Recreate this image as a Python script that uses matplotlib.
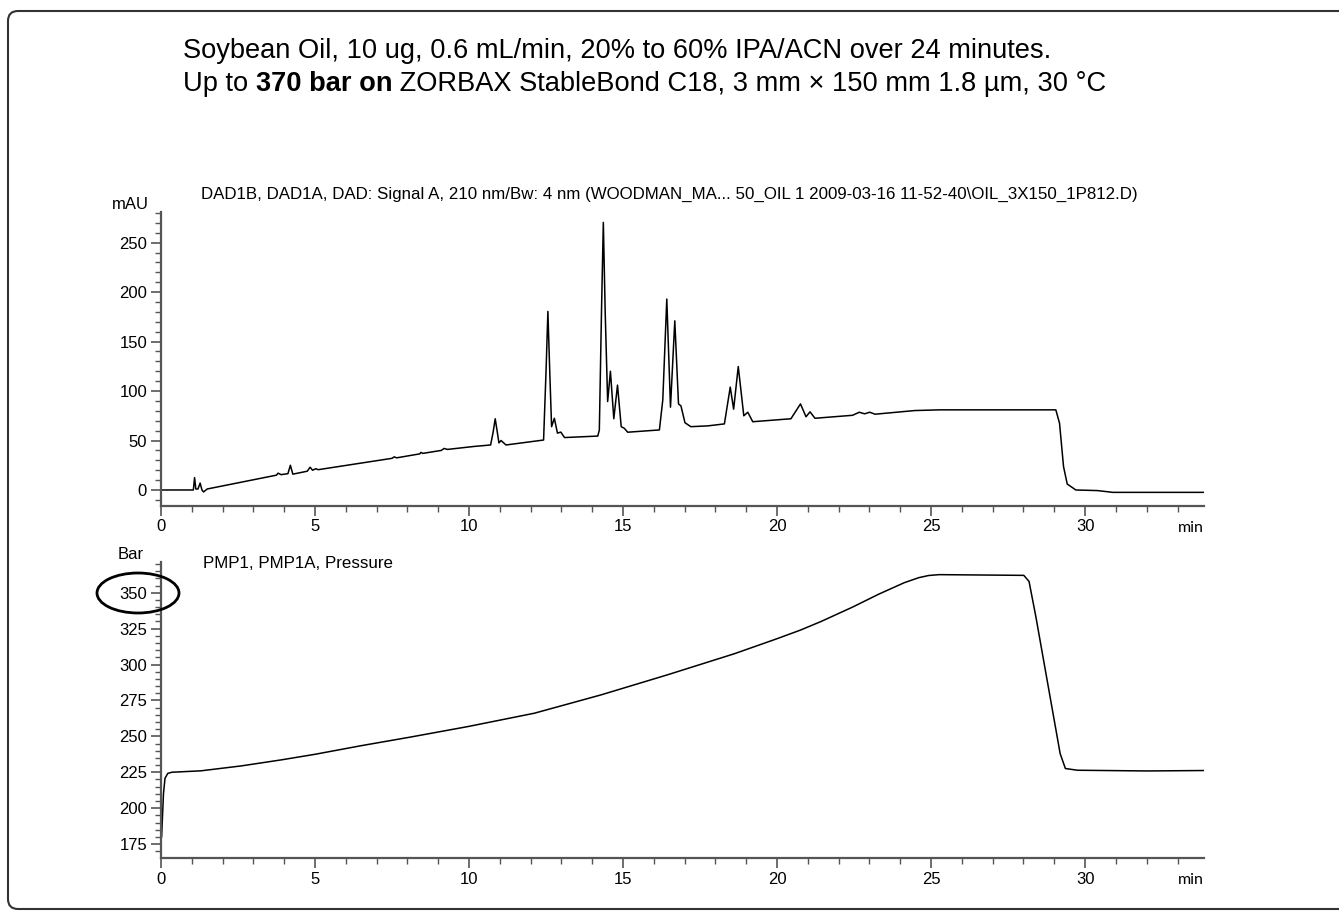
"""
Soybean oil chromatogram and pump pressure trace
================================================
Two stacked panels: DAD signal at 210 nm (mAU) and pump pressure (bar)
against retention time (min). Saved as out.png.
"""

import matplotlib.pyplot as plt
from matplotlib.patches import Ellipse, FancyBboxPatch
from matplotlib.ticker import MultipleLocator
from matplotlib.transforms import IdentityTransform

# ---- DAD signal A, 210 nm (time in min, mAU) ----
dad_time = [
    0.0, 1.05, 1.09, 1.13, 1.2, 1.27, 1.33, 1.38, 1.5,
    3.75, 3.8, 3.9, 4.12, 4.2, 4.28, 4.75, 4.84, 4.92, 5.03, 5.1,
    7.5, 7.57, 7.65, 8.4, 8.44, 8.5, 9.1, 9.19, 9.3, 10.16,
    10.7, 10.78, 10.85, 10.92, 10.97, 11.04, 11.2,
    12.42, 12.5, 12.56, 12.62, 12.68, 12.77, 12.87, 12.98, 13.1,
    14.18, 14.23, 14.3, 14.36, 14.42, 14.5, 14.59, 14.7, 14.82, 14.94, 15.04, 15.15,
    16.18, 16.29, 16.42, 16.54, 16.68, 16.8, 16.88, 17.01, 17.2, 17.75,
    18.29, 18.48, 18.59, 18.74, 18.92, 19.05, 19.21,
    20.45, 20.76, 20.94, 21.07, 21.23,
    22.45, 22.67, 22.84, 23.01, 23.18, 24.47, 25.26,
    29.05, 29.17, 29.3, 29.42, 29.7, 30.4, 30.9, 33.86,
]
dad_signal = [
    0.0, 0.0, 12.5, 1.0, 1.0, 7.0, 0.0, -2.0, 1.0,
    15.0, 17.0, 15.5, 16.5, 25.0, 16.0, 19.0, 23.0, 20.0, 21.5, 20.5,
    32.0, 33.5, 32.5, 36.5, 38.0, 37.0, 40.0, 42.0, 41.0, 44.0,
    45.5, 58.0, 72.0, 58.0, 47.6, 50.0, 45.5,
    50.5, 120.0, 180.5, 120.0, 64.0, 72.5, 57.5, 58.5, 53.0,
    54.5, 60.7, 180.0, 270.5, 180.0, 89.4, 120.0, 72.0, 106.0, 64.0, 62.4, 58.4,
    60.7, 91.0, 193.0, 83.7, 171.0, 87.0, 85.0, 68.0, 64.0, 64.8,
    66.8, 104.0, 81.7, 124.8, 75.0, 78.6, 69.0,
    72.0, 87.0, 74.0, 79.0, 72.5,
    75.5, 78.6, 77.0, 78.6, 76.6, 80.3, 81.0,
    81.0, 67.5, 23.6, 6.0, 0.0, -0.6, -2.4, -2.4,
]

# ---- Pump pressure (time in min, bar) ----
pmp_time = [
    0.02, 0.08, 0.13, 0.22, 0.35, 1.3, 2.6, 3.9, 5.0, 6.5, 8.1,
    9.96, 12.12, 14.29, 16.45, 18.61, 20.0, 20.76, 21.43, 22.45, 23.3, 24.13,
    24.6, 24.92, 25.26, 28.01, 28.18, 28.4, 29.19, 29.36, 29.75, 32.0, 33.86,
]
pmp_pressure = [
    180.0, 210.0, 220.8, 224.2, 225.0, 226.0, 229.4, 233.6, 237.5, 243.5, 249.5,
    256.8, 266.1, 278.9, 292.9, 307.5, 318.0, 324.0, 330.0, 340.0, 349.0, 357.0,
    360.5, 362.0, 362.6, 362.1, 357.9, 333.5, 238.0, 227.6, 226.4, 225.9, 226.2,
]

HEADING_1 = "Soybean Oil, 10 ug, 0.6 mL/min, 20% to 60% IPA/ACN over 24 minutes."
HEADING_2 = [("Up to ", "normal"), ("370 bar on", "bold"),
             (" ZORBAX StableBond C18, 3 mm \u00d7 150 mm 1.8 \u00b5m, 30 \u00b0C", "normal")]
DAD_TITLE = ("DAD1B, DAD1A, DAD: Signal A, 210 nm/Bw: 4 nm (WOODMAN_MA... 50_OIL 1 "
             "2009-03-16 11-52-40\\OIL_3X150_1P812.D)")
PMP_TITLE = "PMP1, PMP1A, Pressure"

FONT = ["Liberation Sans", "DejaVu Sans"]
AXIS_GREY = "#555555"


def style_axis(ax, ylim, y_major, y_minor, unit):
    """Instrument-report look: left/bottom spines only, outward ticks."""
    ax.set_xlim(0, 33.86)
    ax.set_ylim(*ylim)
    for side in ("top", "right"):
        ax.spines[side].set_visible(False)
    for side in ("left", "bottom"):
        ax.spines[side].set_color(AXIS_GREY)
        ax.spines[side].set_linewidth(1.6)
    ax.xaxis.set_major_locator(MultipleLocator(5))
    ax.xaxis.set_minor_locator(MultipleLocator(1))
    ax.yaxis.set_major_locator(MultipleLocator(y_major))
    ax.yaxis.set_minor_locator(MultipleLocator(y_minor))
    ax.tick_params(which="major", length=7, width=1.2, color=AXIS_GREY,
                   labelsize=12, pad=3)
    ax.tick_params(which="minor", length=4, width=1.0, color=AXIS_GREY)
    for lab in ax.get_xticklabels() + ax.get_yticklabels():
        lab.set_fontfamily(FONT)
    # unit labels: y unit above the axis, "min" at the right end of the x axis
    ax.text(-0.029, 1.0, unit, transform=ax.transAxes, ha="center", va="bottom",
            fontsize=12, family=FONT)
    ax.text(1.0, -0.075, "min", transform=ax.transAxes, ha="right", va="center",
            fontsize=11.5, family=["Lato", "DejaVu Sans"])


def main() -> None:
    fig = plt.figure(figsize=(13.39, 9.11), dpi=100)

    # rounded frame, right side runs off the page
    frame = FancyBboxPatch((8, 2), 1400, 898, boxstyle="round,pad=0,rounding_size=10",
                           transform=IdentityTransform(), fill=False,
                           edgecolor="#333333", linewidth=1.5)
    fig.patches.append(frame)

    # ---- headings ----
    fig.text(183 / 1339, 1 - 51 / 911, HEADING_1, fontsize=19.6, family=FONT, va="center")
    renderer = fig.canvas.get_renderer()
    x = 183 / 1339
    for piece, weight in HEADING_2:
        t = fig.text(x, 1 - 84 / 911, piece, fontsize=19.6, family=FONT,
                     weight=weight, va="center")
        x += t.get_window_extent(renderer).width / fig.bbox.width

    # ---- top panel: DAD signal ----
    ax1 = fig.add_axes([161 / 1339, 0.4451, 1043 / 1339, 0.3225])
    ax1.plot(dad_time, dad_signal, color="black", linewidth=1.1)
    style_axis(ax1, (-15.7, 281.3), 50, 10, "mAU")
    fig.text(201 / 1339, 1 - 194 / 911, DAD_TITLE, fontsize=12.2, family=FONT, va="center")

    # ---- bottom panel: pressure ----
    ax2 = fig.add_axes([161 / 1339, 0.0582, 1043 / 1339, 0.3252])
    ax2.plot(pmp_time, pmp_pressure, color="black", linewidth=1.1)
    style_axis(ax2, (165.3, 371.6), 25, 5, "Bar")
    fig.text(203 / 1339, 1 - 563 / 911, PMP_TITLE, fontsize=12.2, family=FONT, va="center")

    # circle around the 350 bar label
    ring = Ellipse((138 / 1339, 1 - 593 / 911), 82 / 1339, 40 / 911,
                   transform=fig.transFigure, fill=False, edgecolor="black", linewidth=2)
    fig.patches.append(ring)

    fig.savefig("out.png", dpi=100)
    plt.close(fig)


if __name__ == "__main__":
    main()
